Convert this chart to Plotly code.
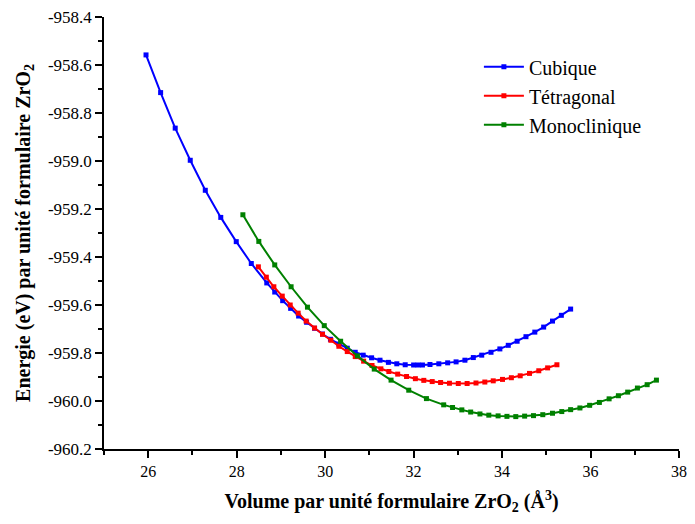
import plotly.graph_objects as go

# Cubique
cub_v = [25.95, 26.28, 26.61, 26.95, 27.29, 27.64, 27.99, 28.33, 28.68, 28.86, 29.04, 29.22,
         29.40, 29.58, 29.76, 29.94, 30.12, 30.31, 30.50, 30.68, 30.86, 31.05, 31.24, 31.43,
         31.62, 31.81, 32.00, 32.10, 32.20, 32.37, 32.57, 32.77, 32.96, 33.16, 33.35, 33.54,
         33.75, 33.95, 34.14, 34.34, 34.54, 34.74, 34.94, 35.14, 35.34, 35.55]
cub_e = [-958.558, -958.715, -958.863, -958.997, -959.122, -959.235, -959.336, -959.427,
         -959.508, -959.546, -959.582, -959.614, -959.646, -959.672, -959.697, -959.721,
         -959.743, -959.763, -959.780, -959.797, -959.809, -959.820, -959.830, -959.839,
         -959.845, -959.849, -959.850, -959.850, -959.850, -959.848, -959.845, -959.841,
         -959.837, -959.830, -959.819, -959.809, -959.797, -959.783, -959.768, -959.751,
         -959.732, -959.713, -959.692, -959.667, -959.643, -959.617]

# Tétragonal
tet_v = [28.49, 28.67, 28.84, 29.03, 29.21, 29.39, 29.57, 29.76, 29.94, 30.13, 30.31, 30.50,
         30.68, 30.87, 31.06, 31.26, 31.44, 31.64, 31.84, 32.04, 32.23, 32.42, 32.61, 32.81,
         33.01, 33.21, 33.41, 33.61, 33.80, 34.01, 34.21, 34.41, 34.62, 34.83, 35.03, 35.24]
tet_e = [-959.441, -959.484, -959.524, -959.563, -959.600, -959.634, -959.667, -959.696,
         -959.722, -959.747, -959.772, -959.794, -959.815, -959.834, -959.852, -959.866,
         -959.877, -959.888, -959.898, -959.907, -959.914, -959.919, -959.923, -959.926,
         -959.927, -959.927, -959.925, -959.921, -959.916, -959.910, -959.903, -959.895,
         -959.885, -959.874, -959.862, -959.849]

# Monoclinique
mono_v = [28.14, 28.50, 28.86, 29.23, 29.60, 29.98, 30.35, 30.73, 31.11, 31.49, 31.89, 32.29,
          32.68, 32.88, 33.09, 33.29, 33.50, 33.70, 33.91, 34.11, 34.31, 34.51, 34.71, 34.92,
          35.14, 35.35, 35.55, 35.76, 35.98, 36.20, 36.42, 36.63, 36.84, 37.06, 37.28, 37.49]
mono_e = [-959.224, -959.335, -959.433, -959.524, -959.609, -959.686, -959.751, -959.812,
          -959.867, -959.913, -959.955, -959.990, -960.016, -960.027, -960.037, -960.046,
          -960.054, -960.059, -960.062, -960.064, -960.065, -960.063, -960.061, -960.057,
          -960.051, -960.044, -960.036, -960.029, -960.018, -960.006, -959.991, -959.978,
          -959.963, -959.946, -959.932, -959.913]

series = [
    ("Cubique", cub_v, cub_e, "#0000FF"),
    ("Tétragonal", tet_v, tet_e, "#FF0000"),
    ("Monoclinique", mono_v, mono_e, "#008000"),
]

x_ticks = [26, 28, 30, 32, 34, 36, 38]
y_ticks = [-958.4, -958.6, -958.8, -959.0, -959.2, -959.4, -959.6, -959.8, -960.0, -960.2]

FONT = "Liberation Serif"

fig = go.Figure()
for name, v, e, col in series:
    fig.add_trace(go.Scatter(
        x=v, y=e, name=name, mode="lines+markers",
        line=dict(color=col, width=2),
        marker=dict(symbol="square", size=5, color=col),
    ))

fig.update_layout(
    width=695, height=524,
    margin=dict(l=104, r=8, t=15, b=75),
    paper_bgcolor="white", plot_bgcolor="white",
    font=dict(family=FONT, size=16, color="black"),
    showlegend=True,
    legend=dict(x=0.652, y=0.93, xanchor="left", yanchor="top",
                bgcolor="rgba(0,0,0,0)", font=dict(family=FONT, size=20),
                itemwidth=40),
)
fig.update_xaxes(
    range=[25, 38], tickvals=x_ticks, ticktext=[str(t) for t in x_ticks],
    showgrid=False, zeroline=False, showline=True, linecolor="black", linewidth=1.5,
    ticks="outside", ticklen=7, tickwidth=1.5, tickcolor="black",
    minor=dict(ticks="outside", ticklen=4, tickwidth=1.5, tickcolor="black", dtick=1),
    tickfont=dict(family=FONT, size=16),
    title=dict(text="<b>Volume par unité formulaire ZrO<sub>2</sub> (Å<sup>3</sup>)</b>",
               font=dict(family=FONT, size=20), standoff=15),
)
fig.update_yaxes(
    range=[-960.2, -958.4], tickvals=y_ticks, ticktext=[f"{t:.1f}" for t in y_ticks],
    showgrid=False, zeroline=False, showline=True, linecolor="black", linewidth=1.5,
    ticks="outside", ticklen=7, tickwidth=1.5, tickcolor="black",
    minor=dict(ticks="outside", ticklen=4, tickwidth=1.5, tickcolor="black", dtick=0.1),
    tickfont=dict(family=FONT, size=17),
    title=dict(text="<b>Energie (eV) par unité formulaire ZrO<sub>2</sub></b>",
               font=dict(family=FONT, size=20), standoff=12),
)

fig.write_html("out.html")
